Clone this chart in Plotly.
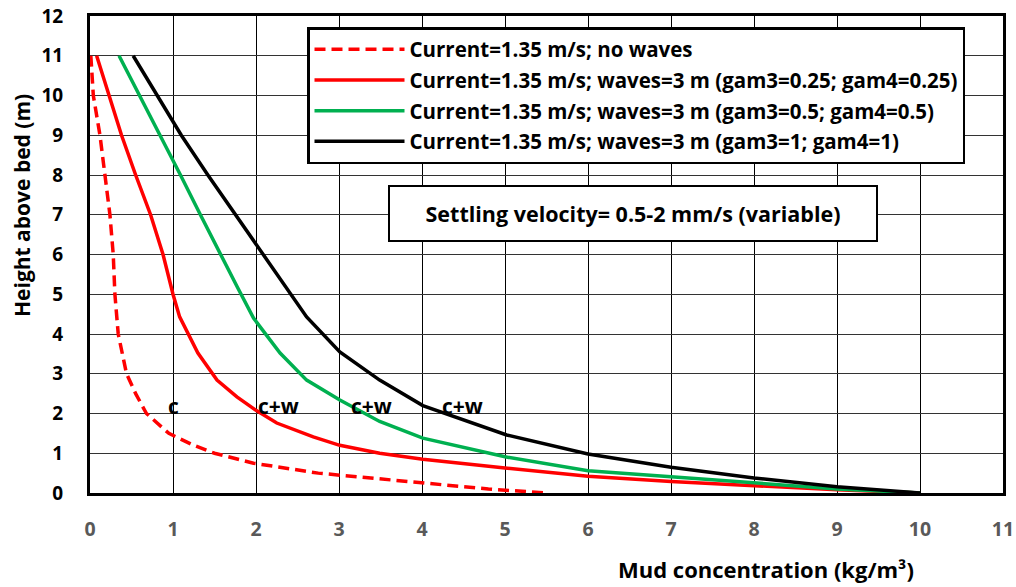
import plotly.graph_objects as go

# ---- data (concentration kg/m3, height m) ----
nw_conc = [0.01, 0.04, 0.12, 0.18, 0.24, 0.28, 0.30, 0.34, 0.44, 0.55, 0.68, 0.95, 1.25, 1.5, 1.97, 2.75, 4.0, 4.8, 5.52]
nw_h    = [11.0, 10.0, 9.0, 8.0, 7.0, 6.0, 5.0, 4.0, 3.0, 2.5, 2.0, 1.5, 1.2, 1.0, 0.75, 0.5, 0.25, 0.1, 0.0]

g025_conc = [0.08, 0.23, 0.38, 0.55, 0.73, 0.88, 1.0, 1.08, 1.3, 1.53, 1.77, 2.0, 2.25, 2.69, 3.01, 3.49, 4.01, 5.0, 6.0, 7.0, 8.0, 9.0, 10.0]
g025_h    = [11.0, 10.0, 9.0, 8.0, 7.0, 6.0, 5.0, 4.43, 3.52, 2.84, 2.42, 2.08, 1.76, 1.41, 1.2, 1.0, 0.85, 0.63, 0.42, 0.29, 0.18, 0.08, 0.0]

g05_conc = [0.35, 0.60, 0.84, 1.09, 1.33, 1.57, 1.77, 1.97, 2.29, 2.61, 3.01, 3.49, 4.01, 5.0, 6.0, 7.0, 8.0, 9.0, 10.0]
g05_h    = [11.0, 10.0, 9.0, 8.0, 7.0, 6.0, 5.2, 4.4, 3.52, 2.84, 2.34, 1.8, 1.38, 0.91, 0.56, 0.41, 0.25, 0.10, 0.0]

g1_conc = [0.52, 0.81, 1.10, 1.42, 1.75, 2.08, 2.41, 2.61, 3.01, 3.49, 4.01, 5.02, 6.0, 7.0, 8.0, 9.0, 10.0]
g1_h    = [11.0, 10.0, 9.0, 8.0, 7.0, 6.0, 5.0, 4.43, 3.55, 2.84, 2.2, 1.46, 0.98, 0.65, 0.38, 0.16, 0.0]

labels_text = ["c", "c+w", "c+w", "c+w"]
labels_x = [1.0, 2.27, 3.39, 4.49]
labels_y = [2.2, 2.2, 2.2, 2.2]

x_ticks = list(range(0, 12))
y_ticks = list(range(0, 13))

FONT = "Open Sans"

fig = go.Figure()
fig.add_trace(go.Scatter(x=nw_conc, y=nw_h, mode="lines", name="Current=1.35 m/s; no waves",
                         line=dict(color="#ff0000", width=3.5, dash="11px,6px"), legendgroup="a"))
fig.add_trace(go.Scatter(x=g025_conc, y=g025_h, mode="lines",
                         name="Current=1.35 m/s; waves=3 m (gam3=0.25; gam4=0.25)",
                         line=dict(color="#ff0000", width=3.5), legendgroup="b"))
fig.add_trace(go.Scatter(x=g05_conc, y=g05_h, mode="lines",
                         name="Current=1.35 m/s; waves=3 m (gam3=0.5; gam4=0.5)",
                         line=dict(color="#00b050", width=3.5), legendgroup="c"))
fig.add_trace(go.Scatter(x=g1_conc, y=g1_h, mode="lines",
                         name="Current=1.35 m/s; waves=3 m (gam3=1; gam4=1)",
                         line=dict(color="#000000", width=3.5), legendgroup="d"))

for t, xx, yy in zip(labels_text, labels_x, labels_y):
    fig.add_annotation(x=xx, y=yy, text=t, showarrow=False,
                       font=dict(family=FONT, size=21, color="black", weight="bold"))

fig.add_annotation(x=(633 - 90) / 913, y=(493 - 213.5) / 477, xref="paper", yref="paper",
                   xanchor="center", yanchor="middle",
                   text="Settling velocity= 0.5-2 mm/s (variable)", showarrow=False,
                   font=dict(family=FONT, size=21.5, color="black", weight="bold"),
                   bgcolor="white", bordercolor="black", borderwidth=2,
                   width=484, height=51, borderpad=1)

fig.add_annotation(x=(766 - 90) / 913, y=-(569 - 493) / 477, xref="paper", yref="paper",
                   xanchor="center", yanchor="middle", text="Mud concentration (kg/m³)",
                   showarrow=False, font=dict(family=FONT, size=22, color="black", weight="bold"))
fig.add_annotation(x=-(90 - 22) / 913, y=(493 - 206) / 477, xref="paper", yref="paper",
                   xanchor="center", yanchor="middle",
                   text="Height above bed (m)", textangle=-90, showarrow=False,
                   font=dict(family=FONT, size=21, color="black", weight="bold"))

fig.update_layout(
    width=1016, height=587,
    margin=dict(l=90, r=13, t=16, b=94, autoexpand=False),
    paper_bgcolor="white", plot_bgcolor="white",
    showlegend=True,
    legend=dict(x=(307 - 90) / 913, y=(493 - 27) / 477, xanchor="left", yanchor="top",
                bgcolor="white", bordercolor="black", borderwidth=2.5,
                font=dict(family=FONT, size=20.5, color="black", weight="bold"),
                tracegroupgap=1, itemwidth=90),
    font=dict(family=FONT),
)
fig.update_xaxes(range=[0, 11], tickvals=x_ticks, showgrid=True, gridcolor="black", gridwidth=1.3,
                 showline=True, linecolor="black", linewidth=3, mirror=True, zeroline=False,
                 ticks="", ticklabelstandoff=17, automargin=False,
                 tickfont=dict(family=FONT, size=19.5, color="#595959", weight="bold"))
fig.update_yaxes(range=[0, 12], tickvals=y_ticks, showgrid=True, gridcolor="#333333", gridwidth=1.3,
                 showline=True, linecolor="black", linewidth=3, mirror=True, zeroline=False,
                 ticks="", ticklabelstandoff=20, automargin=False,
                 tickfont=dict(family=FONT, size=19, color="black", weight="bold"))

fig.write_html("out.html")
